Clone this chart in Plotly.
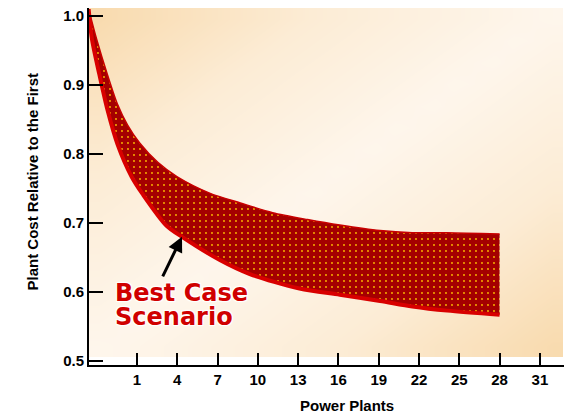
import numpy as np
import plotly.graph_objects as go

# ---- data ----
x_ticks = [1, 4, 7, 10, 13, 16, 19, 22, 25, 28, 31]
y_ticks = [0.5, 0.6, 0.7, 0.8, 0.9, 1.0]
y_tick_labels = ["0.5", "0.6", "0.7", "0.8", "0.9", "1.0"]

# upper edge of the cost band (worst case)
upper_x = [-2.6, -2.0, -1.2, -0.45, 0.3, 1.2, 2.55, 4.0, 6.45, 8.7, 11.1, 13.7, 16.1, 19.1, 21.5, 24.1, 28.0]
upper_y = [1.010, 0.966, 0.915, 0.872, 0.842, 0.816, 0.788, 0.767, 0.743, 0.729, 0.715, 0.705, 0.697, 0.689, 0.686, 0.686, 0.684]

# lower edge of the cost band (best case)
lower_x = [-2.6, -2.35, -1.8, -1.2, -0.45, 0.6, 1.45, 3.2, 4.35, 7.2, 9.4, 13.1, 16.1, 19.1, 21.5, 24.1, 28.0]
lower_y = [1.010, 0.966, 0.915, 0.864, 0.814, 0.767, 0.741, 0.696, 0.680, 0.646, 0.626, 0.605, 0.596, 0.587, 0.579, 0.573, 0.567]

arrow_point = (4.35, 0.680)
label_lines = ["Best Case", "Scenario"]
x_title = "Power Plants"
y_title = "Plant Cost Relative to the First"

# ---- styling ----
# the page body adds an 8px offset, so the figure is 8px smaller than the window
x_range = [-2.574, 32.87]
y_range = [0.4942, 1.0116]
FONT = "Liberation Sans, Arial, sans-serif"
PL, PT, PR, PB = 89, 8, 565, 365   # plot area in window pixels
PW, PH = PR - PL, PB - PT


def px(x):
    return (x - PL) / PW


def py(y):
    return (PB - y) / PH


# background gradient (decoration only)
nx, ny = 24, 16
bg_x = np.linspace(x_range[0], 32.70, nx + 1)
bg_y = np.linspace(0.5065, y_range[1], ny + 1)
xc = (np.arange(nx) + 0.5) / nx
yc = (np.arange(ny) + 0.5) / ny
bg_z = np.abs(xc[None, :] - yc[:, None])

fig = go.Figure()
fig.add_trace(go.Heatmap(
    x=bg_x, y=bg_y, z=bg_z, zsmooth="best", showscale=False,
    colorscale=[[0, "#fef6ec"], [0.5, "#fcecd5"], [1, "#f8d9ab"]], zmin=0, zmax=1,
    hoverinfo="skip",
))
fig.add_trace(go.Scatter(
    x=upper_x, y=upper_y, mode="lines", line=dict(color="#c80000", width=1.5, shape="spline", smoothing=0.8),
    hoverinfo="skip", showlegend=False,
))
fig.add_trace(go.Scatter(
    x=lower_x, y=lower_y, mode="lines", fill="tonexty",
    fillcolor="#a40000",
    fillpattern=dict(shape=".", size=6, solidity=0.07, fgcolor="#ffc400", bgcolor="#a40000"),
    line=dict(color="#d80000", width=4, shape="spline", smoothing=0.8),
    hoverinfo="skip", showlegend=False,
))

axis_common = dict(
    ticks="inside", tickwidth=2, tickcolor="black",
    showline=True, linecolor="black", linewidth=2,
    showgrid=False, zeroline=False, automargin=False,
    ticklabeloverflow="allow",
    tickfont=dict(family=FONT, size=15, color="black", weight="bold"),
)
fig.update_layout(
    template="none",
    width=564, height=409,
    margin=dict(l=81, r=7, t=0, b=52, autoexpand=False),
    paper_bgcolor="white", plot_bgcolor="white",
    showlegend=False,
    font=dict(family=FONT, size=15, color="black"),
    xaxis=dict(range=x_range, tickmode="array", tickvals=x_ticks, ticklen=12, **axis_common),
    yaxis=dict(range=y_range, tickmode="array", tickvals=y_ticks, ticktext=y_tick_labels,
               ticklen=14, **axis_common),
)

fig.add_annotation(
    xref="paper", yref="paper", x=px(347), y=py(405),
    text=x_title, showarrow=False, xanchor="center", yanchor="middle",
    font=dict(family=FONT, size=15, color="black", weight="bold"),
)
fig.add_annotation(
    xref="paper", yref="paper", x=px(32), y=py(181.5),
    text=y_title, showarrow=False, xanchor="center", yanchor="middle", textangle=-90,
    font=dict(family=FONT, size=15, color="black", weight="bold"),
)

label_font = dict(family="DejaVu Sans", size=24, color="#d00000", weight="bold",
                  shadow="1px 1px 1px white, -1px -1px 1px white, 1px -1px 1px white, -1px 1px 1px white")
for line, ly in zip(label_lines, [293, 317]):
    fig.add_annotation(
        xref="paper", yref="paper", x=px(113), y=py(ly),
        text=line, showarrow=False, xanchor="left", yanchor="middle", font=label_font,
    )

fig.add_annotation(
    x=arrow_point[0], y=arrow_point[1], xref="x", yref="y",
    text="", showarrow=True, ax=-20, ay=41,
    arrowhead=2, arrowsize=1, arrowwidth=3, arrowcolor="black", standoff=0,
)

fig.write_html("out.html")
